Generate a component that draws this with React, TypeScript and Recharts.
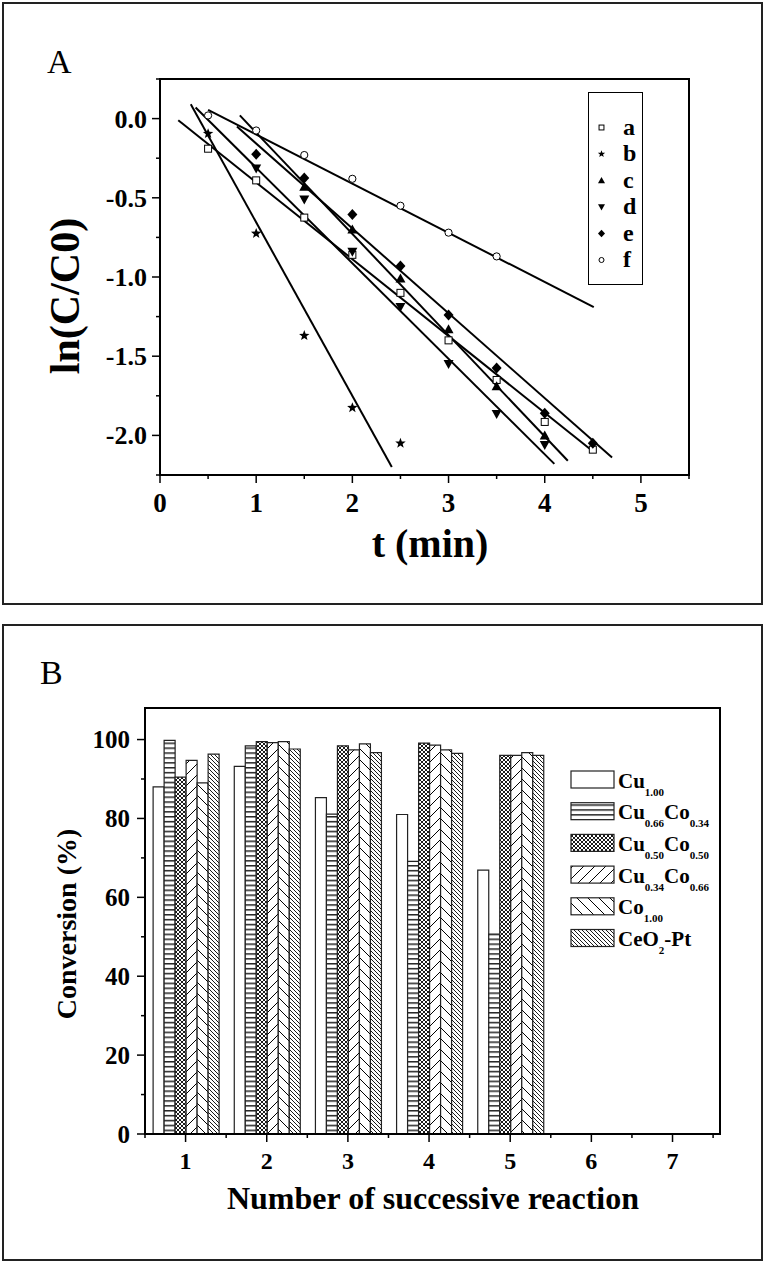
import React from 'react';
import {
  ScatterChart,
  Scatter,
  BarChart,
  Bar,
  XAxis,
  YAxis,
  ReferenceArea,
  Legend,
  Label,
} from 'recharts';

const SERIF = '"Liberation Serif", "Times New Roman", serif';

// ---------- panel A : ln(C/C0) vs t ----------
const seriesNamesA = ['a', 'b', 'c', 'd', 'e', 'f'];

const tA = [0.5, 1, 1.5, 2, 2.5, 3, 3.5, 4, 4.5];
const lnA = [-0.19, -0.39, -0.625, -0.86, -1.1, -1.4, -1.65, -1.915, -2.09];
const tB = [0.5, 1, 1.5, 2, 2.5];
const lnB = [-0.095, -0.725, -1.37, -1.825, -2.05];
const tC = [1.5, 2, 2.5, 3, 3.5, 4];
const lnC = [-0.43, -0.7, -1.01, -1.33, -1.69, -2.0];
const tD = [1, 1.5, 2, 2.5, 3, 3.5, 4];
const lnD = [-0.315, -0.51, -0.84, -1.19, -1.55, -1.865, -2.06];
const tE = [1, 1.5, 2, 2.5, 3, 3.5, 4, 4.5];
const lnE = [-0.225, -0.375, -0.605, -0.93, -1.24, -1.575, -1.86, -2.05];
const tF = [0.5, 1, 1.5, 2, 2.5, 3, 3.5];
const lnF = [0.02, -0.075, -0.23, -0.38, -0.55, -0.72, -0.87];

// fitted lines, ends: [t, ln]
const fitA = [[0.19, -0.01], [4.5, -2.1]];
const fitB = [[0.32, 0.09], [2.41, -2.2]];
const fitC = [[0.83, 0.02], [4.24, -2.16]];
const fitD = [[0.37, 0.07], [4.1, -2.18]];
const fitE = [[0.8, -0.05], [4.7, -2.14]];
const fitF = [[0.5, 0.055], [4.51, -1.19]];

const ticksTA = [0, 0.5, 1, 1.5, 2, 2.5, 3, 3.5, 4, 4.5, 5, 5.5];
const ticksLnA = [-2.25, -2, -1.75, -1.5, -1.25, -1, -0.75, -0.5, -0.25, 0, 0.25];

// ---------- panel B : conversion per cycle ----------
const cycles = [1, 2, 3, 4, 5, 6, 7];
const cu100 = [88.0, 93.2, 85.3, 81.0, 66.9];
const cu066co034 = [99.8, 98.4, 81.1, 69.1, 50.7];
const cu050co050 = [90.5, 99.5, 98.4, 99.1, 96.0];
const cu034co066 = [94.7, 99.2, 97.4, 98.6, 96.0];
const co100 = [89.0, 99.5, 98.9, 97.4, 96.7];
const ceo2pt = [96.3, 97.6, 96.7, 96.5, 96.0];

// legend names: [text, subscript]
const namesB: [string, string][][] = [
  [['Cu', '1.00']],
  [['Cu', '0.66'], ['Co', '0.34']],
  [['Cu', '0.50'], ['Co', '0.50']],
  [['Cu', '0.34'], ['Co', '0.66']],
  [['Co', '1.00']],
  [['CeO', '2'], ['-Pt', '']],
];
const ticksConv = [0, 10, 20, 30, 40, 50, 60, 70, 80, 90, 100];

type Kind = 'square' | 'star' | 'up' | 'down' | 'diamond' | 'circle';
const kindsA: Kind[] = ['square', 'star', 'up', 'down', 'diamond', 'circle'];

const toPts = (ts: number[], vs: number[]) => ts.map((t, i) => ({ t, v: vs[i] }));
const toFit = (f: number[][]) => f.map(([t, v]) => ({ t, v }));

const pointsA = [
  toPts(tA, lnA),
  toPts(tB, lnB),
  toPts(tC, lnC),
  toPts(tD, lnD),
  toPts(tE, lnE),
  toPts(tF, lnF),
];
const fitsA = [fitA, fitB, fitC, fitD, fitE, fitF].map(toFit);

const dataB = cycles.slice(0, cu100.length).map((c, i) => ({
  cycle: c,
  cu100: cu100[i],
  cu066: cu066co034[i],
  cu050: cu050co050[i],
  cu034: cu034co066[i],
  co100: co100[i],
  ceo2: ceo2pt[i],
}));
const barKeys = ['cu100', 'cu066', 'cu050', 'cu034', 'co100', 'ceo2'];
const barFills = [
  '#fff',
  'url(#pHoriz)',
  'url(#pCross)',
  'url(#pFwd)',
  'url(#pBack)',
  'url(#pBackDense)',
];
const ticksCycle = [...cycles.flatMap(c => [c - 0.5, c]), 7.5];

function starPath(cx: number, cy: number, R: number, r: number) {
  let d = '';
  for (let k = 0; k < 10; k++) {
    const a = -Math.PI / 2 + (k * Math.PI) / 5;
    const rad = k % 2 === 0 ? R : r;
    d += (k ? 'L' : 'M') + (cx + rad * Math.cos(a)).toFixed(2) + ',' + (cy + rad * Math.sin(a)).toFixed(2);
  }
  return d + 'Z';
}

function Marker({ kind, cx, cy, s = 1 }: { kind: Kind; cx: number; cy: number; s?: number }) {
  switch (kind) {
    case 'square':
      return <rect x={cx - 3.5 * s} y={cy - 3.5 * s} width={7 * s} height={7 * s} fill="#fff" stroke="#000" strokeWidth={1} />;
    case 'star':
      return <path d={starPath(cx, cy, 5.5 * s, 2.3 * s)} fill="#000" />;
    case 'up':
      return <path d={`M${cx},${cy - 5 * s}L${cx + 5 * s},${cy + 4 * s}L${cx - 5 * s},${cy + 4 * s}Z`} fill="#000" />;
    case 'down':
      return <path d={`M${cx},${cy + 5 * s}L${cx + 5 * s},${cy - 4 * s}L${cx - 5 * s},${cy - 4 * s}Z`} fill="#000" />;
    case 'diamond':
      return <path d={`M${cx},${cy - 5.5 * s}L${cx + 5 * s},${cy}L${cx},${cy + 5.5 * s}L${cx - 5 * s},${cy}Z`} fill="#000" />;
    default:
      return <circle cx={cx} cy={cy} r={3.6 * s} fill="#fff" stroke="#000" strokeWidth={1} />;
  }
}

const txt = { fontFamily: SERIF, fontWeight: 'bold' as const, fill: '#000' };

const XTickA = (p: any) => {
  const v = p.payload.value as number;
  const major = Number.isInteger(v);
  return (
    <g>
      <line x1={p.x} x2={p.x} y1={p.y} y2={p.y + (major ? 8 : 4)} stroke="#000" strokeWidth={1.5} />
      {major && (
        <text x={p.x} y={p.y + 37} textAnchor="middle" fontSize={27} {...txt}>
          {v}
        </text>
      )}
    </g>
  );
};

const YTickA = (p: any) => {
  const v = p.payload.value as number;
  const major = Number.isInteger(v * 2);
  return (
    <g>
      <line x1={p.x - (major ? 8 : 4)} x2={p.x} y1={p.y} y2={p.y} stroke="#000" strokeWidth={1.5} />
      {major && (
        <text x={p.x - 13} y={p.y + 9} textAnchor="end" fontSize={26} {...txt}>
          {v.toFixed(1)}
        </text>
      )}
    </g>
  );
};

const XTickB = (p: any) => {
  const v = p.payload.value as number;
  const major = Number.isInteger(v);
  return (
    <g>
      <line x1={p.x} x2={p.x} y1={p.y} y2={p.y + (major ? 8 : 4)} stroke="#000" strokeWidth={1.5} />
      {major && (
        <text x={p.x} y={p.y + 35} textAnchor="middle" fontSize={24} {...txt}>
          {v}
        </text>
      )}
    </g>
  );
};

const YTickB = (p: any) => {
  const v = p.payload.value as number;
  const major = v % 20 === 0;
  return (
    <g>
      <line x1={p.x - (major ? 8 : 4)} x2={p.x} y1={p.y} y2={p.y} stroke="#000" strokeWidth={1.5} />
      {major && (
        <text x={p.x - 15} y={p.y + 8.5} textAnchor="end" fontSize={25} {...txt}>
          {v}
        </text>
      )}
    </g>
  );
};

const LegendA = () => (
  <div
    style={{
      width: 55,
      height: 193,
      boxSizing: 'border-box',
      border: '1.5px solid #000',
      background: '#fff',
      position: 'relative',
    }}
  >
    <svg width={52} height={190} style={{ position: 'absolute', left: 0, top: 0 }}>
      {seriesNamesA.map((n, i) => (
        <g key={n}>
          <Marker kind={kindsA[i]} cx={12.5} cy={34.5 + i * 26.5} s={0.7} />
          <text x={34} y={34.5 + i * 26.5 + 7} fontSize={24} {...txt}>
            {n}
          </text>
        </g>
      ))}
    </svg>
  </div>
);

const LegendB = () => (
  <svg width={190} height={200}>
    {namesB.map((segs, i) => {
      const y0 = i * 31.7;
      return (
        <g key={i}>
          <rect x={1} y={y0 + 1} width={43} height={17} fill={barFills[i]} stroke="#222" strokeWidth={1.2} />
          <text x={48} y={y0 + 17.5} fontSize={21} {...txt}>
            {segs.map(([t, s], j) => (
              <React.Fragment key={j}>
                <tspan dy={j > 0 && segs[j - 1][1] ? -8 : 0}>{t}</tspan>
                {s && (
                  <tspan fontSize={11} dy={8}>
                    {s}
                  </tspan>
                )}
              </React.Fragment>
            ))}
          </text>
        </g>
      );
    })}
  </svg>
);

export default function App() {
  return (
    <div
      style={{
        position: 'absolute',
        left: 0,
        top: 0,
        width: 766,
        height: 1263,
        background: '#fff',
        fontFamily: SERIF,
      }}
    >
      {/* panel frames */}
      <div style={{ position: 'absolute', left: 2, top: 2, width: 761, height: 603, boxSizing: 'border-box', border: '2px solid #222' }} />
      <div style={{ position: 'absolute', left: 2, top: 624, width: 761, height: 637, boxSizing: 'border-box', border: '2px solid #222' }} />
      <div style={{ position: 'absolute', left: 47, top: 42, fontSize: 34, lineHeight: '40px' }}>A</div>
      <div style={{ position: 'absolute', left: 40, top: 653, fontSize: 34, lineHeight: '40px' }}>B</div>

      <div style={{ position: 'absolute', left: 0, top: 0 }}>
        <ScatterChart width={766} height={610} margin={{ top: 79, right: 77, bottom: 35, left: 60 }}>
          <XAxis
            type="number"
            dataKey="t"
            domain={[0, 5.5]}
            ticks={ticksTA}
            allowDataOverflow
            interval={0}
            tickSize={0}
            tickMargin={0}
            tickLine={false}
            tick={XTickA}
            axisLine={{ stroke: '#000', strokeWidth: 2 }}
            height={100}
          >
            <Label
              content={() => (
                <text x={430} y={557} textAnchor="middle" fontSize={40} {...txt}>
                  t (min)
                </text>
              )}
            />
          </XAxis>
          <YAxis
            type="number"
            dataKey="v"
            domain={[-2.25, 0.25]}
            ticks={ticksLnA}
            allowDataOverflow
            interval={0}
            tickSize={0}
            tickMargin={0}
            tickLine={false}
            tick={YTickA}
            axisLine={{ stroke: '#000', strokeWidth: 2 }}
            width={100}
          >
            <Label
              content={() => (
                <text x={79} y={296} transform="rotate(-90 79 296)" textAnchor="middle" fontSize={42} {...txt}>
                  ln(C/C0)
                </text>
              )}
            />
          </YAxis>
          <ReferenceArea x1={0} x2={5.5} y1={-2.25} y2={0.25} fill="none" stroke="#000" strokeWidth={2} ifOverflow="visible" />
          {fitsA.map((f, i) => (
            <Scatter
              key={'fit' + i}
              data={f}
              line={{ stroke: '#000', strokeWidth: 2 }}
              shape={() => <g />}
              legendType="none"
              isAnimationActive={false}
            />
          ))}
          {pointsA.map((pts, i) => (
            <Scatter
              key={seriesNamesA[i]}
              name={seriesNamesA[i]}
              data={pts}
              shape={(p: any) => <Marker kind={kindsA[i]} cx={p.cx} cy={p.cy} />}
              isAnimationActive={false}
            />
          ))}
          <Legend
            layout="vertical"
            align="center"
            verticalAlign="middle"
            wrapperStyle={{ left: 588, top: 92, width: 55, height: 193 }}
            content={() => <LegendA />}
          />
        </ScatterChart>
      </div>

      <div style={{ position: 'absolute', left: 0, top: 620 }}>
        <BarChart
          width={766}
          height={643}
          data={dataB}
          margin={{ top: 88, right: 46, bottom: 29, left: 55 }}
          barGap={0}
          barCategoryGap="10%"
        >
          <defs>
            <pattern id="pHoriz" patternUnits="userSpaceOnUse" width={6} height={4.9}>
              <rect width={6} height={4.9} fill="#fff" />
              <line x1={0} x2={6} y1={0.8} y2={0.8} stroke="#000" strokeWidth={1.3} />
            </pattern>
            <pattern id="pCross" patternUnits="userSpaceOnUse" width={4} height={4}>
              <rect width={4} height={4} fill="#fff" />
              <path d="M0,0L4,4M4,0L0,4" stroke="#000" strokeWidth={0.9} />
            </pattern>
            <pattern id="pFwd" patternUnits="userSpaceOnUse" width={11} height={11}>
              <rect width={11} height={11} fill="#fff" />
              <path d="M0,11L11,0M-1,1L1,-1M10,12L12,10" stroke="#000" strokeWidth={1} />
            </pattern>
            <pattern id="pBack" patternUnits="userSpaceOnUse" width={11} height={11}>
              <rect width={11} height={11} fill="#fff" />
              <path d="M0,0L11,11M-1,10L1,12M10,-1L12,1" stroke="#000" strokeWidth={1} />
            </pattern>
            <pattern id="pBackDense" patternUnits="userSpaceOnUse" width={4} height={4}>
              <rect width={4} height={4} fill="#fff" />
              <path d="M0,0L4,4M-1,3L1,5M3,-1L5,1" stroke="#000" strokeWidth={0.9} />
            </pattern>
          </defs>
          <XAxis
            type="number"
            dataKey="cycle"
            domain={[0.5, 7.585]}
            ticks={ticksCycle}
            allowDataOverflow
            interval={0}
            tickSize={0}
            tickMargin={0}
            tickLine={false}
            tick={XTickB}
            axisLine={{ stroke: '#000', strokeWidth: 2 }}
            height={100}
          >
            <Label
              content={() => (
                <text x={433} y={589} textAnchor="middle" fontSize={32} {...txt}>
                  Number of successive reaction
                </text>
              )}
            />
          </XAxis>
          <YAxis
            type="number"
            domain={[0, 108]}
            ticks={ticksConv}
            allowDataOverflow
            interval={0}
            tickSize={0}
            tickMargin={0}
            tickLine={false}
            tick={YTickB}
            axisLine={{ stroke: '#000', strokeWidth: 2 }}
            width={90}
          >
            <Label
              content={() => (
                <text x={76} y={304} transform="rotate(-90 76 304)" textAnchor="middle" fontSize={28} {...txt}>
                  Conversion (%)
                </text>
              )}
            />
          </YAxis>
          <ReferenceArea x1={0.5} x2={7.585} y1={0} y2={108} fill="none" stroke="#000" strokeWidth={2} ifOverflow="visible" />
          {barKeys.map((k, i) => (
            <Bar key={k} dataKey={k} fill={barFills[i]} stroke="#222" strokeWidth={1.2} isAnimationActive={false} />
          ))}
          <Legend
            layout="vertical"
            align="center"
            verticalAlign="middle"
            wrapperStyle={{ left: 569.7, top: 149.7, width: 190, height: 200 }}
            content={() => <LegendB />}
          />
        </BarChart>
      </div>
    </div>
  );
}
